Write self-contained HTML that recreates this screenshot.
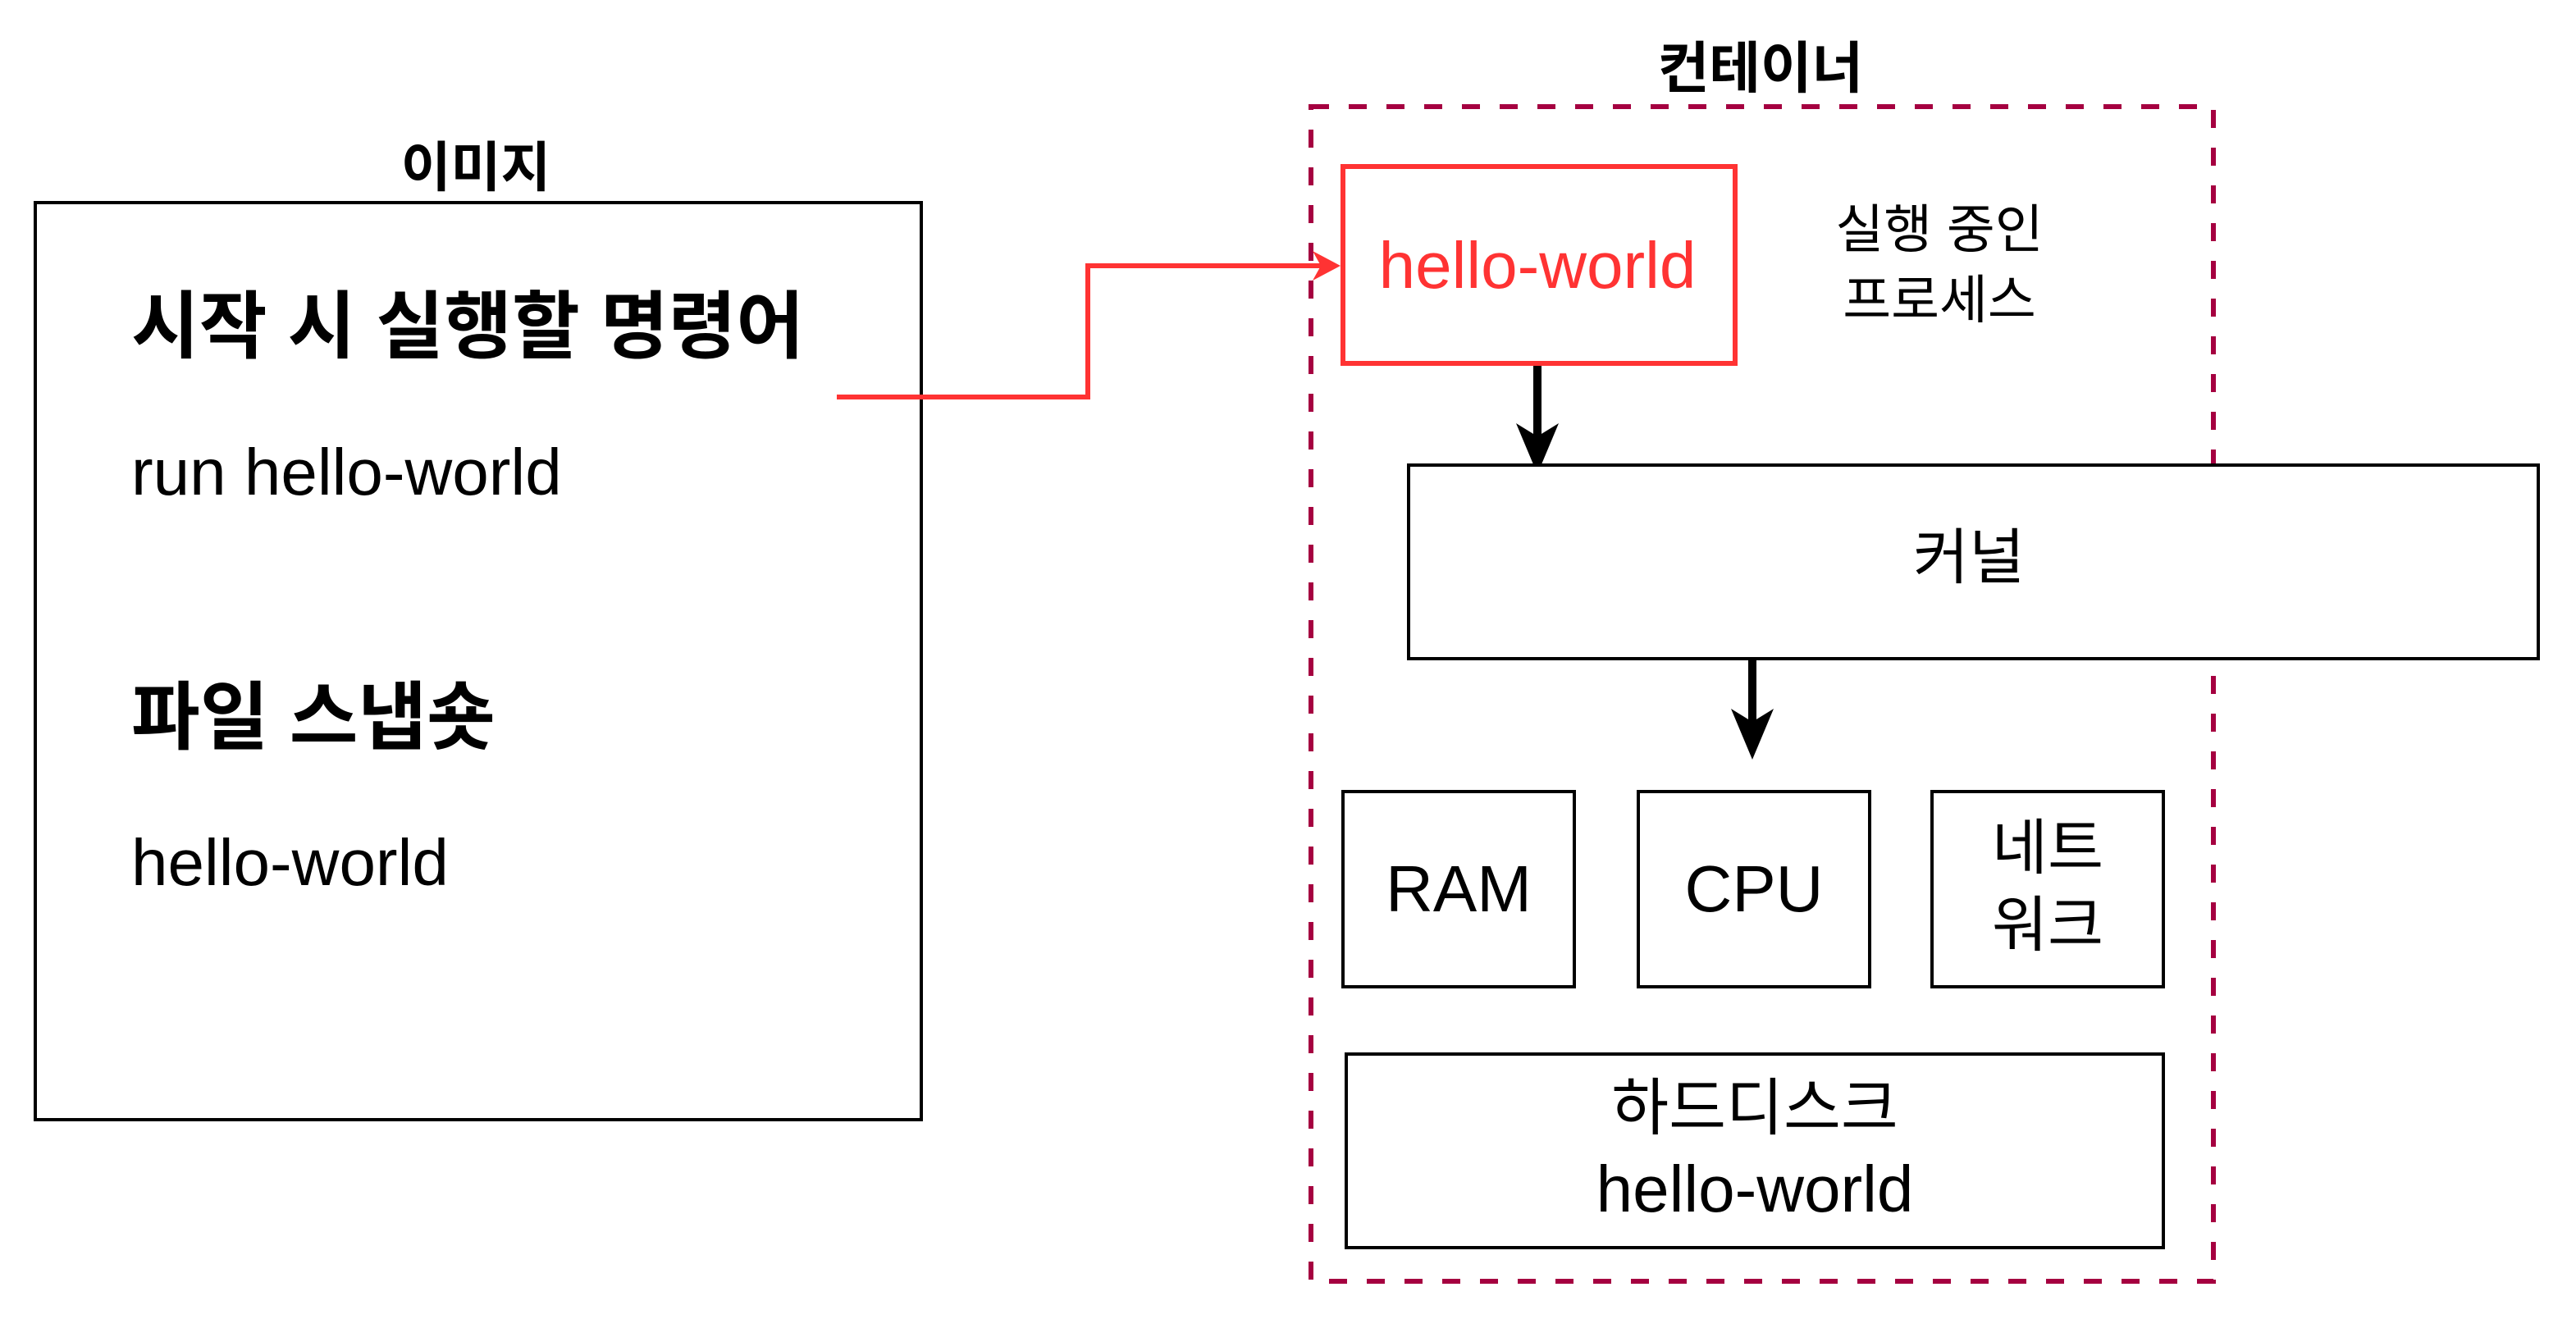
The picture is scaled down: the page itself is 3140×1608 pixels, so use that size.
<!DOCTYPE html>
<html><head><meta charset="utf-8"><style>
html,body{margin:0;padding:0;background:#fff}
body{width:3140px;height:1608px;position:relative;overflow:hidden;font-family:"Liberation Sans","Noto Sans CJK KR",sans-serif}
.t{position:absolute;white-space:nowrap;line-height:1}
.c{transform:translate(-50%,-50%)}
</style></head><body>
<svg width="3140" height="1608" style="position:absolute;left:0;top:0">
<rect x="43" y="247" width="1080" height="1118" fill="none" stroke="#000" stroke-width="4"/>
<rect x="1598" y="130" width="1100" height="1432" fill="none" stroke="#A50040" stroke-width="6" stroke-dasharray="22 24"/>
<polyline points="1020,484 1326,484 1326,324 1612,324" fill="none" stroke="#FF3333" stroke-width="6"/>
<polygon points="1634,324 1600,306 1610,324 1600,342" fill="#FF3333"/>
<line x1="1874" y1="446" x2="1874" y2="540" stroke="#000" stroke-width="10"/>
<polygon points="1874,578 1848,516 1874,532 1900,516" fill="#000"/>
<line x1="2136" y1="804" x2="2136" y2="890" stroke="#000" stroke-width="10"/>
<polygon points="2136,926 2110,864 2136,880 2162,864" fill="#000"/>
<rect x="1717" y="567" width="1377" height="236" fill="#fff" stroke="#000" stroke-width="4"/>
<rect x="1637" y="203" width="478" height="240" fill="#fff" stroke="#FF3333" stroke-width="6"/>
<rect x="1637" y="965" width="282" height="238" fill="#fff" stroke="#000" stroke-width="4"/>
<rect x="1997" y="965" width="282" height="238" fill="#fff" stroke="#000" stroke-width="4"/>
<rect x="2355" y="965" width="282" height="238" fill="#fff" stroke="#000" stroke-width="4"/>
<rect x="1641" y="1285" width="996" height="236" fill="#fff" stroke="#000" stroke-width="4"/>
</svg>
<div class="t c" style="left:580px;top:204px;font-size:66px;font-weight:bold">이미지</div>
<div class="t" style="left:160px;top:354px;font-size:90px;font-weight:bold">시작 시 실행할 명령어</div>
<div class="t" style="left:160px;top:536px;font-size:80px">run hello-world</div>
<div class="t" style="left:160px;top:830px;font-size:91px;font-weight:bold">파일 스냅숏</div>
<div class="t" style="left:160px;top:1012px;font-size:80px">hello-world</div>
<div class="t c" style="left:2146px;top:84px;font-size:68px;font-weight:bold">컨테이너</div>
<div class="t c" style="left:1874px;top:324px;font-size:80px;color:#FF3333">hello-world</div>
<div class="t c" style="left:2364px;top:280px;font-size:64px">실행 중인</div>
<div class="t c" style="left:2364px;top:366px;font-size:64px">프로세스</div>
<div class="t c" style="left:2400px;top:680px;font-size:74px">커널</div>
<div class="t c" style="left:1778px;top:1084px;font-size:80px">RAM</div>
<div class="t c" style="left:2138px;top:1084px;font-size:80px">CPU</div>
<div class="t c" style="left:2496px;top:1034px;font-size:74px">네트</div>
<div class="t c" style="left:2496px;top:1128px;font-size:74px">워크</div>
<div class="t c" style="left:2139px;top:1352px;font-size:76px">하드디스크</div>
<div class="t c" style="left:2139px;top:1450px;font-size:80px">hello-world</div>
</body></html>
